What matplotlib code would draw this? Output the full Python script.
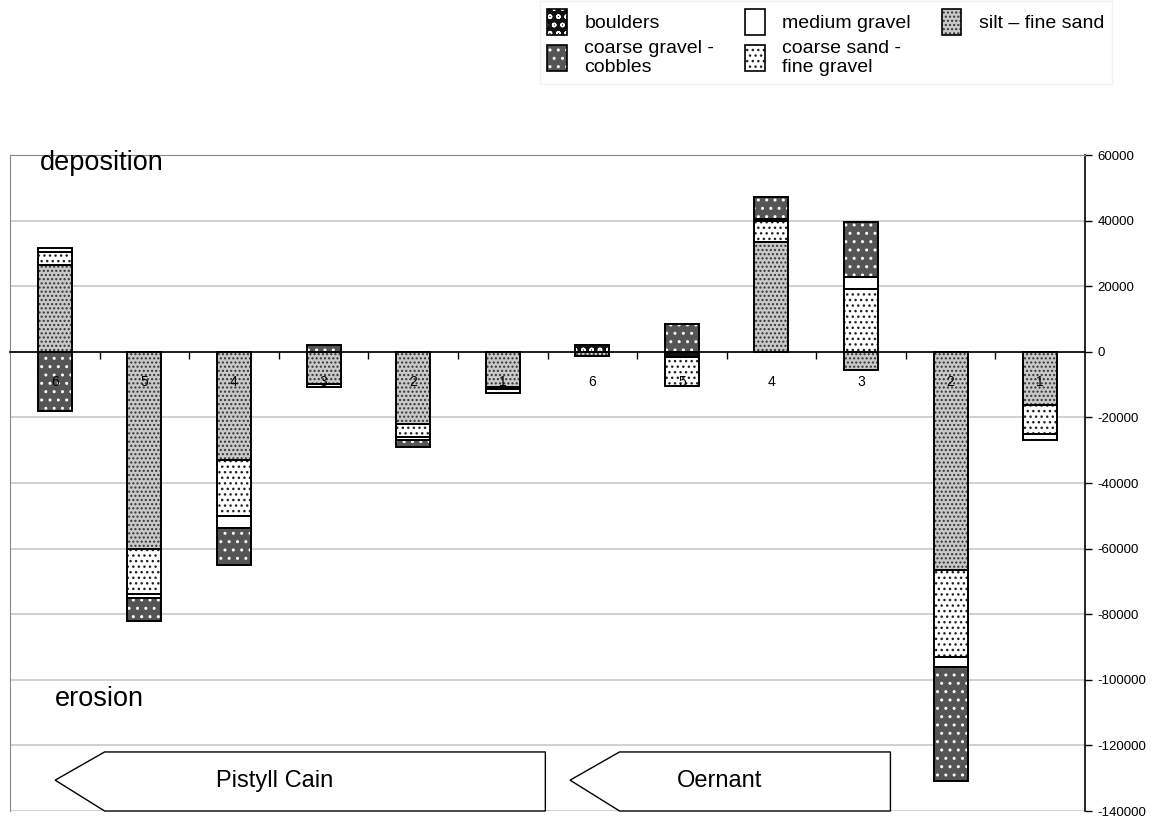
import matplotlib.pyplot as plt
from matplotlib.patches import Patch, Polygon
import numpy as np

plt.rcParams['font.family'] = ['Liberation Sans', 'DejaVu Sans']
plt.rcParams['hatch.linewidth'] = 1.0

# sites along the two streams (Pistyll Cain 6..1, then Oernant 6..1)
sites = ['6', '5', '4', '3', '2', '1', '6', '5', '4', '3', '2', '1']

# volume change per grain size class (positive = deposition, negative = erosion)
boulders = [0, 0, 0, 0, 0, 0, 2000, -1700, 0, 0, 0, 0]
silt_fine_sand = [26500, -60000, -33000, -9800, -22000, -10800, -1200, 0, 33500, -5500, -66400, -16200]
coarse_sand = [3800, -13700, -17000, -1000, -4000, -600, 0, -8800, 6500, 19000, -26500, -8800]
medium_gravel = [1400, -1300, -3700, 0, -1000, -1300, 0, 0, 500, 3800, -3300, -1800]
coarse_gravel = [-18200, -7000, -11300, 2000, -2000, 0, 0, 8400, 6700, 16700, -34700, 0]

yticks = [60000, 40000, 20000, 0, -20000, -40000, -60000, -80000, -100000, -120000, -140000]

# (values, label, face, hatch, hatch colour) in stacking order
series = [
    (boulders, 'boulders', '#111111', 'oo', 'white'),
    (silt_fine_sand, 'silt \u2013 fine sand', '#c8c8c8', '....', '#333333'),
    (coarse_sand, 'coarse sand -\nfine gravel', 'white', '...', '#222222'),
    (medium_gravel, 'medium gravel', 'white', None, 'white'),
    (coarse_gravel, 'coarse gravel -\ncobbles', '#555555', '..', 'white'),
]

fig = plt.figure(figsize=(11.64, 8.17), dpi=100)
ax = fig.add_axes([10 / 1164, 6 / 817, 1075 / 1164, 656 / 817])

x = np.arange(len(sites))
pos_base = np.zeros(len(sites))
neg_base = np.zeros(len(sites))
handles = {}
for vals, label, face, hatch, hcol in series:
    v = np.array(vals, dtype=float)
    bottom = np.where(v >= 0, pos_base, neg_base)
    ax.bar(x, v, 0.38, bottom=bottom, color=face, edgecolor=hcol, hatch=hatch,
           linewidth=0, zorder=2)
    ax.bar(x, v, 0.38, bottom=bottom, fill=False, edgecolor='black',
           linewidth=1.4, zorder=3)
    pos_base += np.where(v > 0, v, 0)
    neg_base += np.where(v < 0, v, 0)
    handles[label] = (Patch(facecolor=face, edgecolor=hcol, hatch=hatch, linewidth=0),
                      Patch(fill=False, edgecolor='black', linewidth=1.2))

ax.set_xlim(-0.5, len(sites) - 0.5)
ax.set_ylim(-140000, 60000)

# zero line with category dividers
ax.spines['bottom'].set_position(('data', 0))
ax.spines['bottom'].set_linewidth(1.2)
ax.spines['bottom'].set_zorder(4)
ax.set_xticks(np.arange(0.5, len(sites) - 1, 1.0))
ax.set_xticklabels([])
ax.tick_params(axis='x', direction='out', length=5, width=1)
for i, s in enumerate(sites):
    ax.text(i, -9200, s, ha='center', va='center', fontsize=10, zorder=5)

ax.yaxis.tick_right()
ax.set_yticks(yticks)
ax.set_yticklabels([str(t) for t in yticks], fontsize=9.5)
ax.tick_params(axis='y', direction='out', length=5, width=1, pad=4)
ax.spines['right'].set_linewidth(1.2)
for side in ['left', 'top']:
    ax.spines[side].set_color('#888888')
ax.set_axisbelow(True)
ax.yaxis.grid(True, color='#c8c8c8', linewidth=1.2)

ax.text(0.028, 0.988, 'deposition', transform=ax.transAxes, fontsize=19.5, va='center')
ax.text(0.042, 0.17, 'erosion', transform=ax.transAxes, fontsize=19.5, va='center')

# stream direction arrows
for tip, start, end, name, tx in [(0.042, 0.088, 0.498, 'Pistyll Cain', 0.2465),
                                  (0.521, 0.567, 0.819, 'Oernant', 0.66)]:
    arrow = Polygon([(tip, 0.047), (start, 0.090), (end, 0.090), (end, 0.0), (start, 0.0)],
                    closed=True, facecolor='white', edgecolor='black', linewidth=1,
                    transform=ax.transAxes, clip_on=False, zorder=6)
    ax.add_patch(arrow)
    ax.text(tx, 0.045, name, transform=ax.transAxes,
            fontsize=17, ha='center', va='center', zorder=7)

order = ['boulders', 'coarse gravel -\ncobbles', 'medium gravel',
         'coarse sand -\nfine gravel', 'silt \u2013 fine sand']
leg = fig.legend([handles[k] for k in order], order, ncol=3, loc='upper right',
                 bbox_to_anchor=(1112 / 1164, 1 - 1 / 817), borderaxespad=0,
                 fontsize=14, frameon=True, fancybox=False, edgecolor='#eeeeee',
                 handlelength=1.0, handleheight=1.7, handletextpad=0.9,
                 columnspacing=1.6, labelspacing=0.25, borderpad=0.4)

fig.savefig('out.png', dpi=100)
